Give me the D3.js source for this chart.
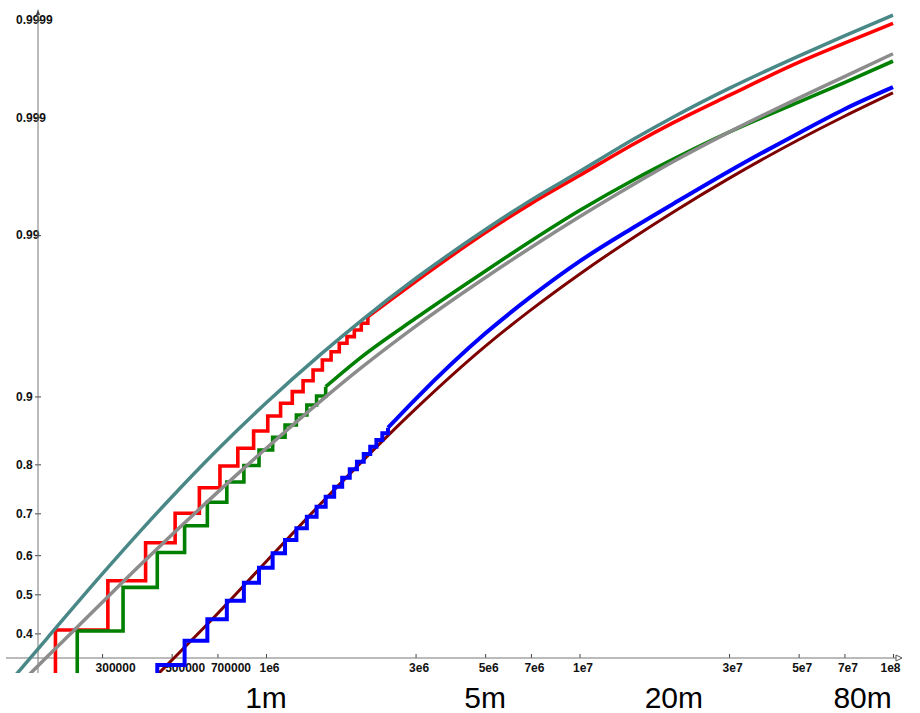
<!DOCTYPE html>
<html>
<head>
<meta charset="utf-8">
<script src="https://cdn.jsdelivr.net/npm/d3@7"></script>
<style>
  body { margin: 0; background: #fff; }
  svg { display: block; font-family: "Liberation Sans", Arial, sans-serif; }
  .tick text { font-family: "Liberation Sans Narrow", "Liberation Sans", Arial, sans-serif; font-size: 12px; font-weight: bold; fill: #111; }
</style>
</head>
<body>
<script>
// x axis ticks (log scale)
const xTicks = [3e5, 5e5, 7e5, 1e6, 3e6, 5e6, 7e6, 1e7, 3e7, 5e7, 7e7, 1e8];
const xTickLabels = ['300000', '500000', '700000', '1e6', '3e6', '5e6', '7e6', '1e7', '3e7', '5e7', '7e7', '1e8'];
// y axis ticks (normal probability scale)
const yTicks = [0.4, 0.5, 0.6, 0.7, 0.8, 0.9, 0.99, 0.999, 0.9999];
const yTickLabels = ['0.4', '0.5', '0.6', '0.7', '0.8', '0.9', '0.99', '0.999', '0.9999'];
// big labels under the axis
const noteX = [1e6, 5e6, 2e7, 8e7];
const noteLabels = ['1m', '5m', '20m', '80m'];

// smooth curves
const smoothX = [1.5e5, 2e5, 3e5, 4e5, 5e5, 7e5, 1e6, 1.5e6, 2e6, 3e6, 5e6, 7e6, 1e7, 1.5e7, 2e7, 3e7, 5e7, 7e7, 1e8];
const teal = [0.2797, 0.3873, 0.5518, 0.6612, 0.7353, 0.8254, 0.8923, 0.9403, 0.9615, 0.97959, 0.99088, 0.99466,
    0.99691, 0.99842, 0.99901, 0.999475, 0.999755, 0.999851, 0.999912];
const gray = [0.2553, 0.3421, 0.4788, 0.5775, 0.6493, 0.7454, 0.8275, 0.8952, 0.9283, 0.9587, 0.97984, 0.98765,
    0.99276, 0.99608, 0.99748, 0.99862, 0.999345, 0.999600, 0.999768];
const maroonX = [4e5, 5e5, 7e5, 1e6, 1.5e6, 2e6, 3e6, 5e6, 7e6, 1e7, 1.5e7, 2e7, 3e7, 5e7, 7e7, 1e8];
const maroon = [0.2662, 0.3343, 0.4497, 0.5834, 0.7222, 0.8023, 0.8851, 0.94582, 0.96726, 0.98092, 0.98972, 0.99340,
    0.99647, 0.99838, 0.99902, 0.999419];

// step curves: visible steps, then the fine part read as a line
const redStepX = [113e3, 213e3, 313e3, 413e3, 513e3, 613e3, 713e3, 813e3, 913e3, 1013e3, 1113e3, 1213e3,
    1313e3, 1413e3, 1513e3, 1613e3, 1713e3, 1813e3, 1913e3, 2013e3, 2113e3];
const redStep = [0.25, 0.4086, 0.5351, 0.6309, 0.7001, 0.7550, 0.7970, 0.8278, 0.8549, 0.8759, 0.8920, 0.9053,
    0.9167, 0.9268, 0.9354, 0.9419, 0.9480, 0.9524, 0.9565, 0.9604, 0.9639];
const redTailX = [2.5e6, 3e6, 5e6, 7e6, 1e7, 1.5e7, 2e7, 3e7, 5e7, 7e7, 1e8];
const redTail = [0.97180, 0.97861, 0.99039, 0.99430, 0.99666, 0.99825, 0.99888, 0.999384, 0.999714, 0.999821, 0.999891];

const greenStepX = [150e3, 250e3, 350e3, 450e3, 550e3, 650e3, 750e3, 850e3, 950e3, 1050e3, 1150e3, 1250e3,
    1350e3, 1450e3, 1550e3];
const greenStep = [0.25, 0.4061, 0.518, 0.6067, 0.6716, 0.7244, 0.7665, 0.7979, 0.8250, 0.8454, 0.8636, 0.8773,
    0.8899, 0.9005, 0.9106];
const greenTailX = [2e6, 3e6, 5e6, 7e6, 1e7, 1.5e7, 2e7, 3e7, 5e7, 7e7, 1e8];
const greenTail = [0.93720, 0.96307, 0.98181, 0.98894, 0.99353, 0.99641, 0.99760, 0.99862, 0.999284, 0.999541, 0.999723];

const blueStepX = [350e3, 450e3, 550e3, 650e3, 750e3, 850e3, 950e3, 1050e3, 1150e3, 1250e3, 1350e3, 1450e3,
    1550e3, 1650e3, 1750e3, 1850e3, 1950e3, 2050e3, 2150e3, 2250e3, 2350e3, 2450e3];
const blueStep = [0.26, 0.3235, 0.3819, 0.4357, 0.4835, 0.5299, 0.5684, 0.6047, 0.6375, 0.6655, 0.6924, 0.7148,
    0.7363, 0.7571, 0.7749, 0.7909, 0.8048, 0.8182, 0.8305, 0.8412, 0.8515, 0.8597];
const blueTailX = [3e6, 5e6, 7e6, 1e7, 1.5e7, 2e7, 3e7, 5e7, 7e7, 1e8];
const blueTail = [0.8970, 0.95434, 0.97304, 0.98446, 0.99135, 0.99432, 0.99693, 0.99859, 0.99916, 0.999489];

const width = 920;
const height = 713;
const axisY = 658;
const axisX = 38;

// inverse normal cdf (Acklam) for the probability axis
function probit(p) {
    const a = [-39.69683028665376, 220.9460984245205, -275.9285104469687, 138.3577518672690, -30.66479806614716, 2.506628277459239];
    const b = [-54.47609879822406, 161.5858368580409, -155.6989798598866, 66.80131188771972, -13.28068155288572];
    const c = [-0.007784894002430293, -0.3223964580411365, -2.400758277161838, -2.549671180941315, 4.374664141464968, 2.938163982698783];
    const d = [0.007784695709041462, 0.3224671290700398, 2.445134137142996, 3.754408661907416];
    const plow = 0.02425;
    let q, r;
    if (p < plow) {
        q = Math.sqrt(-2 * Math.log(p));
        return (((((c[0] * q + c[1]) * q + c[2]) * q + c[3]) * q + c[4]) * q + c[5]) /
            ((((d[0] * q + d[1]) * q + d[2]) * q + d[3]) * q + 1);
    }
    if (p <= 1 - plow) {
        q = p - 0.5;
        r = q * q;
        return (((((a[0] * r + a[1]) * r + a[2]) * r + a[3]) * r + a[4]) * r + a[5]) * q /
            (((((b[0] * r + b[1]) * r + b[2]) * r + b[3]) * r + b[4]) * r + 1);
    }
    q = Math.sqrt(-2 * Math.log(1 - p));
    return -(((((c[0] * q + c[1]) * q + c[2]) * q + c[3]) * q + c[4]) * q + c[5]) /
        ((((d[0] * q + d[1]) * q + d[2]) * q + d[3]) * q + 1);
}

const x = d3.scaleLog()
    .domain([1e6, 1e8])
    .range([266, 893]);
const yz = d3.scaleLinear()
    .domain([0, 3])
    .range([594.3, 131.1]);
const y = p => yz(probit(p));

const svg = d3.select('body')
    .append('svg')
    .attr('width', width)
    .attr('height', height);

svg.append('rect')
    .attr('width', width)
    .attr('height', height)
    .attr('fill', '#fff');

svg.append('defs').append('clipPath')
    .attr('id', 'plot')
    .append('rect')
    .attr('x', 6)
    .attr('y', 0)
    .attr('width', 897)
    .attr('height', 673);

// x axis
const xAxis = d3.axisBottom(x)
    .tickValues(xTicks)
    .tickFormat((d, i) => xTickLabels[i])
    .tickSizeInner(-4)
    .tickSizeOuter(0)
    .tickPadding(5);
const gx = svg.append('g')
    .attr('transform', `translate(0, ${axisY})`)
    .call(xAxis);
gx.select('.domain').remove();
gx.selectAll('.tick line').attr('stroke', '#444');
gx.selectAll('.tick text')
    .attr('text-anchor', (d, i) => i === xTicks.length - 1 ? 'end' : 'start')
    .attr('dx', (d, i) => i === xTicks.length - 1 ? 7 : -7);
svg.append('line')
    .attr('x1', 6).attr('x2', 901)
    .attr('y1', axisY).attr('y2', axisY)
    .attr('stroke', '#777');
svg.append('path')
    .attr('d', `M896,${axisY - 3}L902,${axisY}L896,${axisY + 3}Z`)
    .attr('fill', '#fff')
    .attr('stroke', '#555');

// y axis
const yAxis = d3.axisLeft(yz)
    .tickValues(yTicks.map(probit))
    .tickFormat((d, i) => yTickLabels[i])
    .tickSizeInner(3)
    .tickSizeOuter(0);
const gy = svg.append('g')
    .attr('transform', `translate(${axisX}, 0)`)
    .call(yAxis);
gy.select('.domain').remove();
gy.selectAll('.tick line').attr('x1', 3).attr('stroke', '#444');
gy.selectAll('.tick text')
    .attr('text-anchor', 'start')
    .attr('x', 16 - axisX);
svg.append('line')
    .attr('x1', axisX).attr('x2', axisX)
    .attr('y1', 12).attr('y2', 673)
    .attr('stroke', '#777');
svg.append('path')
    .attr('d', `M${axisX},9L${axisX - 2},15L${axisX + 2},15Z`)
    .attr('fill', '#444');

// curves
const plot = svg.append('g').attr('clip-path', 'url(#plot)');
const smooth = d3.line()
    .x(d => x(d[0]))
    .y(d => y(d[1]))
    .curve(d3.curveMonotoneX);
const steps = d3.line()
    .x(d => x(d[0]))
    .y(d => y(d[1]))
    .curve(d3.curveStepAfter);

function drawStepped(sx, sp, tx, tp, color, w) {
    const st = d3.zip(sx, sp);
    plot.append('path')
        .attr('d', steps(st))
        .attr('fill', 'none')
        .attr('stroke', color)
        .attr('stroke-width', w)
        .attr('stroke-linejoin', 'miter');
    plot.append('path')
        .attr('d', smooth([st[st.length - 1]].concat(d3.zip(tx, tp))))
        .attr('fill', 'none')
        .attr('stroke', color)
        .attr('stroke-width', w);
}
function drawSmooth(sx, sp, color, w) {
    plot.append('path')
        .attr('d', smooth(d3.zip(sx, sp)))
        .attr('fill', 'none')
        .attr('stroke', color)
        .attr('stroke-width', w);
}

drawSmooth(maroonX, maroon, '#7d0000', 3);
drawStepped(blueStepX, blueStep, blueTailX, blueTail, '#0000ff', 4);
drawStepped(redStepX, redStep, redTailX, redTail, '#ff0000', 3.6);
drawStepped(greenStepX, greenStep, greenTailX, greenTail, '#008000', 3.6);
drawSmooth(smoothX, gray, '#8c8c8c', 3.5);
drawSmooth(smoothX, teal, '#4a8888', 3.5);

// big labels below the axis
svg.selectAll('.note')
    .data(noteX)
    .enter()
    .append('text')
    .attr('class', 'note')
    .attr('y', 708)
    .attr('text-anchor', 'middle')
    .attr('font-size', 30)
    .attr('fill', '#000')
    .text((d, i) => noteLabels[i])
    .attr('x', function (d) {
        const half = this.getComputedTextLength() / 2;
        return Math.min(x(d), 903 - half);
    });
</script>
</body>
</html>
